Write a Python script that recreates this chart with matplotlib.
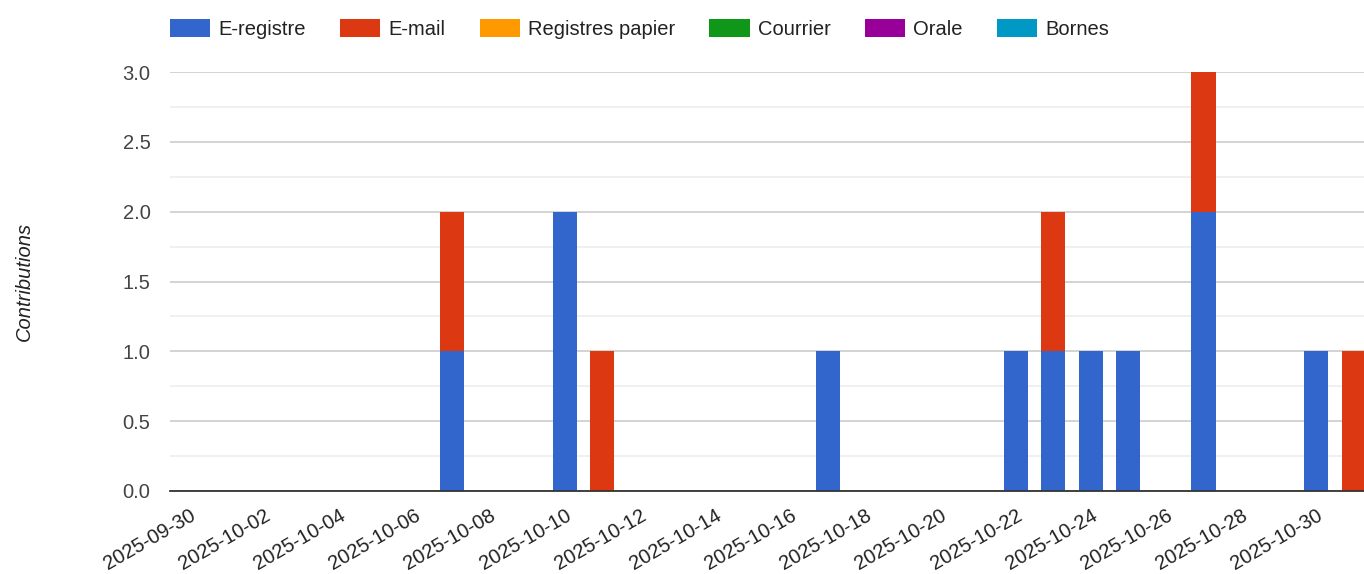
import numpy as np
import pandas as pd
import matplotlib
matplotlib.use('Agg')
import matplotlib.pyplot as plt
from matplotlib.ticker import MultipleLocator

plt.rcParams['font.family'] = ['Liberation Sans', 'DejaVu Sans']

# Données
dates = ['2025-10-07', '2025-10-10', '2025-10-11', '2025-10-17', '2025-10-22',
         '2025-10-23', '2025-10-24', '2025-10-25', '2025-10-27', '2025-10-30',
         '2025-10-31']
e_registre = [1, 2, 0, 1, 1, 1, 1, 1, 2, 1, 0]
e_mail = [1, 0, 1, 0, 0, 1, 0, 0, 1, 0, 1]
registres_papier = [0] * len(dates)
courrier = [0] * len(dates)
orale = [0] * len(dates)
bornes = [0] * len(dates)

series = ['E-registre', 'E-mail', 'Registres papier', 'Courrier', 'Orale', 'Bornes']
valeurs = [e_registre, e_mail, registres_papier, courrier, orale, bornes]
couleurs = ['#3366cc', '#dc3912', '#ff9900', '#109618', '#990099', '#0099c6']

tick_start = '2025-09-30'
tick_end = '2025-10-30'

x = pd.to_datetime(dates)
W, H = 1364, 574
fig = plt.figure(figsize=(W / 100, H / 100), dpi=100)
ax = fig.add_axes([170 / W, 1 - 491 / H, 1 - 170 / W, (491 - 72) / H])

bas = np.zeros(len(dates))
handles = []
for nom, v, c in zip(series, valeurs, couleurs):
    v = np.array(v, dtype=float)
    b = ax.bar(x, v, bottom=bas, width=0.64, color=c, label=nom, linewidth=0)
    handles.append(b)
    bas += v

ax.set_ylim(0, 3)
ax.set_xlim(pd.Timestamp(tick_start) - pd.Timedelta(hours=12),
            pd.Timestamp('2025-10-31') + pd.Timedelta(hours=6.5))

ax.yaxis.set_major_locator(MultipleLocator(0.5))
ax.yaxis.set_minor_locator(MultipleLocator(0.25))
ax.yaxis.set_major_formatter(plt.FormatStrFormatter('%.1f'))
ax.grid(True, which='major', axis='y', color='#cccccc', linewidth=1.2)
ax.grid(True, which='minor', axis='y', color='#eeeeee', linewidth=1.2)
ax.set_axisbelow(True)

ticks = pd.date_range(tick_start, tick_end, freq='2D')
ax.set_xticks(ticks)
ax.set_xticklabels([t.strftime('%Y-%m-%d') for t in ticks], rotation=30,
                   ha='right', va='top', rotation_mode='anchor')
ax.tick_params(axis='x', length=0, pad=10.5, labelsize=14.5, labelcolor='#222222')
ax.tick_params(axis='y', which='both', length=0, pad=14, labelsize=14.5,
               labelcolor='#444444')

for s in ['top', 'right', 'left']:
    ax.spines[s].set_visible(False)
ax.spines['bottom'].set_color('#333333')
ax.spines['bottom'].set_linewidth(1.3)
ax.spines['bottom'].set_zorder(5)

fig.text(24 / W, 1 - 281 / H, 'Contributions', rotation=90, style='italic',
         fontsize=14.5, color='#222222', ha='center', va='center')

fig.legend(handles=handles, labels=series, loc='upper left',
           bbox_to_anchor=(170 / W, 1 - 19 / H), ncol=6, frameon=False,
           fontsize=14.5, handlelength=2, handleheight=1, handletextpad=0.4,
           columnspacing=1.7, borderpad=0, borderaxespad=0, labelcolor='#222222')

fig.savefig('out.png', dpi=100)
